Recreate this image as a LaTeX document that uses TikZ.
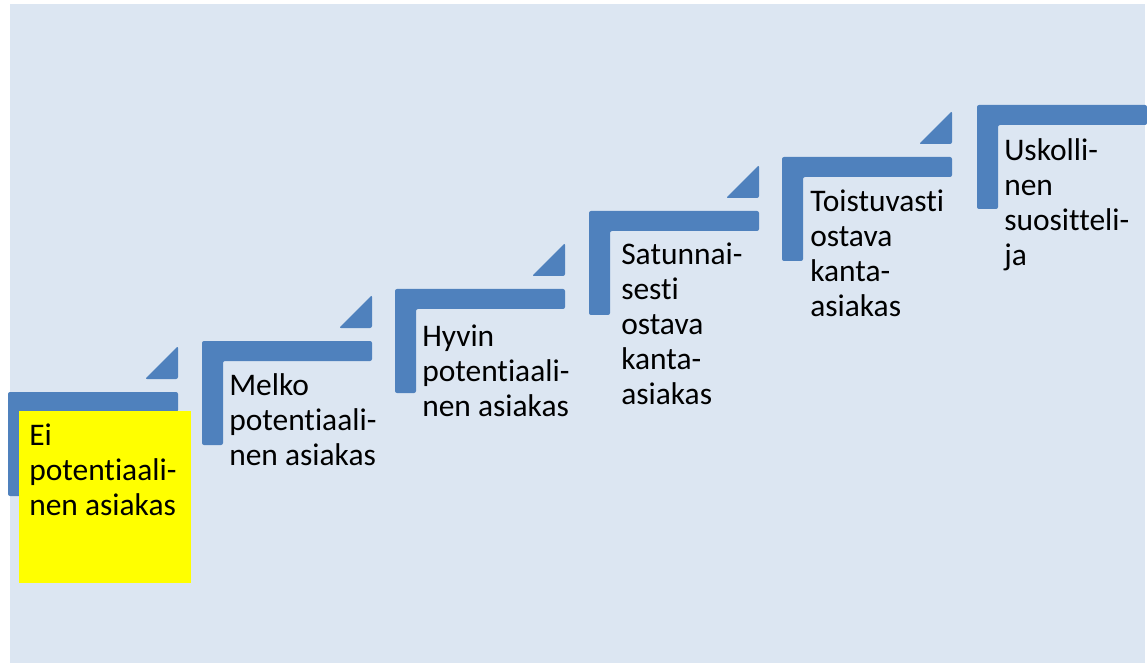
\documentclass[tikz,border=0pt]{standalone}
\usepackage{fontspec}
\setmainfont{Carlito}[Ligatures=NoCommon]
\definecolor{stepblue}{HTML}{4F81BD}
\definecolor{bgblue}{HTML}{DCE6F2}
\definecolor{boxyellow}{HTML}{FFFF00}
\begin{document}
\begin{tikzpicture}[x=0.75pt, y=-0.75pt, line join=round, line cap=round,
	steptext/.style={anchor=north west, inner sep=0pt, align=left, font=\fontsize{23.6}{26.3}\selectfont, execute at begin node=\strut}]
		\def\bw{170} \def\bh{20}  % palkki
		\def\vw{21} \def\vh{104} \def\tri{33}
		\def\up{24.5} % tekstin yläreuna
		\useasboundingbox (0,0) rectangle (1147,663);
		\fill[bgblue] (10,4) rectangle (1145,663);
		\foreach \i/\x/\y in {1/8/392, 2/202/341, 3/395/289, 4/589/211, 5/782/157, 6/977/105}{
			\fill[stepblue, rounded corners=1.5pt] (\x,\y) -- ++(\bw,0) -- ++(0,\bh) -- ++(-\bw+\vw,0) -- ++(0,\vh-\bh) -- ++(-\vw,0) -- cycle;
			\ifnum\i<6
			\fill[stepblue, rounded corners=1.5pt] (\x+\bw,\y-13) -- (\x+\bw,\y-13-\tri) -- (\x+\bw-\tri,\y-13) -- cycle;
			\fi
		}
		\fill[boxyellow] (19,411) rectangle (191,583);
		\node[steptext] (s1) at (29,448-\up) {Ei\\potentiaali-\\nen asiakas};
		\node[steptext] (s2) at (229,398-\up) {Melko\\potentiaali-\\nen asiakas};
		\node[steptext] (s3) at (422,349-\up) {Hyvin\\potentiaali-\\nen asiakas};
		\node[steptext] (s4) at (621,267-\up) {Satunnai-\\sesti\\ostava\\kanta-\\asiakas};
		\node[steptext] (s5) at (810,214-\up) {Toistuvasti\\ostava\\kanta-\\asiakas};
		\node[steptext] (s6) at (1004,163-\up) {Uskolli-\\nen\\suositteli-\\ja};
\end{tikzpicture}
\end{document}
